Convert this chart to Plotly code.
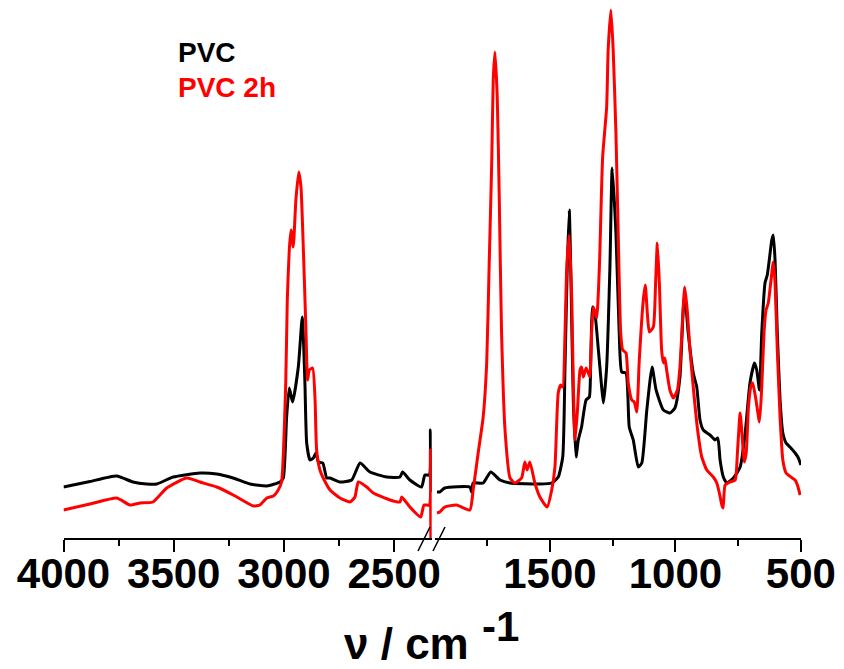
import plotly.graph_objects as go

# ---------------- data (wavenumber in cm-1, absorbance in arbitrary units) ----------------
# PVC, high-wavenumber segment (4000 - 2330 cm-1)
pvc_hi_wn = [4000, 3880, 3759, 3685, 3623, 3577, 3503, 3381, 3305, 3231, 3154, 3078, 3018, 3003,
             2988, 2976, 2961, 2935, 2917, 2905, 2897, 2882, 2867, 2855, 2844, 2824, 2806, 2791,
             2746, 2693, 2655, 2610, 2534, 2474, 2462, 2429, 2376, 2361, 2341, 2336, 2331]
pvc_hi_a = [51, 56.5, 62, 56, 54, 54, 61, 65, 64, 60, 54, 52, 56, 60,
            121, 150, 136, 171, 221, 155, 95, 78, 80, 85, 76, 75, 60, 60,
            56, 58, 75, 66, 61, 61, 66, 58, 51, 63, 63, 108, 46]

# PVC 2h, high-wavenumber segment
pvc2h_hi_wn = [4000, 3880, 3759, 3698, 3653, 3594, 3532, 3441, 3381, 3305, 3230, 3139, 3109, 3078,
               3048, 3026, 3011, 2992, 2985, 2976, 2968, 2958, 2946, 2933, 2923, 2912, 2900, 2893,
               2885, 2870, 2859, 2852, 2837, 2822, 2791, 2746, 2701, 2678, 2663, 2625, 2595, 2519,
               2474, 2466, 2429, 2380, 2365, 2341, 2336, 2334]
pvc2h_hi_a = [28, 34, 40, 33, 35, 36, 50, 60, 56, 51, 43, 32, 33, 40,
              42, 48, 56, 155, 238, 288, 308, 291, 338, 366, 351, 288, 205, 158,
              168, 170, 138, 88, 68, 60, 48, 40, 36, 41, 56, 51, 45, 38,
              36, 41, 31, 21, 33, 33, 88, 0]

# PVC, fingerprint segment (1950 - 500 cm-1)
pvc_lo_wn = [1950, 1939, 1919, 1819, 1812, 1806, 1766, 1736, 1699, 1659, 1540, 1493, 1467, 1449,
             1440, 1431, 1423, 1416, 1407, 1396, 1387, 1374, 1356, 1343, 1338, 1330, 1321, 1307,
             1294, 1287, 1274, 1261, 1252, 1237, 1224, 1214, 1197, 1184, 1168, 1148, 1134, 1114,
             1093, 1077, 1048, 1022, 1002, 982, 966, 962, 949, 929, 915, 902, 889, 862, 842, 831,
             822, 809, 795, 769, 742, 722, 703, 685, 676, 665, 656, 643, 634, 626, 616, 610, 603,
             594, 583, 572, 559, 540, 523, 510, 500]
pvc_lo_a = [46, 46, 50, 51, 46, 55, 55, 66, 58, 55, 54, 55, 61, 81,
            171, 271, 328, 255, 138, 81, 98, 111, 138, 141, 171, 231, 225, 188,
            151, 135, 171, 271, 370, 305, 205, 166, 165, 111, 98, 71, 75, 128,
            171, 148, 128, 125, 130, 161, 238, 240, 205, 165, 151, 118, 108, 103, 98, 100,
            78, 61, 55, 60, 71, 105, 155, 175, 168, 148, 205, 255, 263, 278, 298, 303, 278,
            205, 138, 105, 95, 90, 85, 80, 73]

# PVC 2h, fingerprint segment
pvc2h_lo_wn = [1950, 1939, 1919, 1872, 1819, 1806, 1786, 1766, 1752, 1742, 1732, 1726, 1719, 1710,
               1702, 1693, 1679, 1659, 1640, 1613, 1600, 1591, 1580, 1560, 1540, 1511, 1493, 1480,
               1467, 1457, 1449, 1440, 1433, 1423, 1413, 1407, 1400, 1391, 1380, 1374, 1367, 1356,
               1347, 1341, 1334, 1327, 1314, 1303, 1290, 1274, 1268, 1257, 1248, 1237, 1228, 1218,
               1210, 1197, 1188, 1174, 1164, 1154, 1144, 1128, 1120, 1112, 1104, 1088, 1079, 1072,
               1064, 1055, 1048, 1042, 1035, 1022, 1008, 992, 982, 971, 963, 953, 942, 929, 913,
               895, 875, 849, 835, 825, 815, 810, 802, 782, 762, 753, 742, 733, 726, 718, 709, 700,
               692, 679, 665, 656, 647, 639, 630, 619, 610, 603, 594, 583, 572, 559, 540, 523, 514,
               503]
pvc2h_lo_a = [25, 26, 31, 33, 28, 48, 85, 121, 175, 275, 375, 458, 486, 441,
              341, 208, 108, 60, 55, 60, 76, 68, 76, 55, 41, 31, 48, 71,
              145, 153, 151, 205, 271, 303, 238, 155, 98, 125, 168, 171, 161, 170,
              165, 161, 205, 231, 220, 271, 381, 431, 488, 528, 488, 405, 305, 205,
              188, 185, 155, 138, 136, 126, 178, 238, 253, 225, 206, 211, 255, 295,
              255, 188, 175, 180, 168, 148, 140, 148, 171, 221, 251, 228, 188, 151, 111,
              81, 68, 61, 55, 45, 33, 30, 53, 56, 58, 85, 125, 98, 76, 85, 131, 151,
              155, 138, 116, 151, 205, 228, 235, 258, 276, 255, 188, 121, 78, 65, 61, 58, 53,
              43]

hi_ticks = [4000, 3500, 3000, 2500]
lo_ticks = [1500, 1000, 500]
series_names = ["PVC", "PVC 2h"]
series_colors = ["#000000", "#FF0000"]

# ---------------- figure ----------------
W, H = 844, 669
FONT = "Liberation Sans, Arial, sans-serif"
LINE = dict(width=3, shape="spline", smoothing=0.5)

fig = go.Figure()
for xs, ys, xa, i in [(pvc_hi_wn, pvc_hi_a, "x", 0), (pvc2h_hi_wn, pvc2h_hi_a, "x", 1),
                      (pvc_lo_wn, pvc_lo_a, "x2", 0), (pvc2h_lo_wn, pvc2h_lo_a, "x2", 1)]:
    fig.add_trace(go.Scatter(x=xs, y=ys, mode="lines", xaxis=xa, yaxis="y",
                             line=dict(color=series_colors[i], **LINE),
                             name=series_names[i], showlegend=False))

axis_common = dict(
    showgrid=False, zeroline=False, showline=True, linecolor="black", linewidth=2,
    ticks="outside", ticklen=12, tickwidth=2, tickcolor="black",
    tickfont=dict(family=FONT, size=42, color="black", weight="bold"),
    ticklabelstandoff=-14,
    minor=dict(ticks="outside", ticklen=6, tickwidth=2, tickcolor="black",
               tick0=0, dtick=250, showgrid=False),
    anchor="y", fixedrange=True, automargin=False,
)
fig.update_layout(
    width=W, height=H,
    margin=dict(l=0, r=0, t=0, b=131, pad=0, autoexpand=False),
    plot_bgcolor="white", paper_bgcolor="white",
    xaxis=dict(domain=[63.5 / W, 431.7 / W], range=[4000, 2330],
               tickmode="array", tickvals=hi_ticks, ticktext=[str(t) for t in hi_ticks],
               **axis_common),
    xaxis2=dict(domain=[435 / W, 800.9 / W], range=[1958, 500],
                tickmode="array", tickvals=lo_ticks, ticktext=[str(t) for t in lo_ticks],
                **axis_common),
    yaxis=dict(range=[0, 538], visible=False, fixedrange=True, automargin=False),
)

PH = 538.0  # plot height in px


def px(x):
    return x / W


def py(y):
    return (PH - y) / PH


# axis break marks
for x0, x1 in [(418, 430), (433, 445)]:
    fig.add_shape(type="line", xref="paper", yref="paper",
                  x0=px(x0), y0=py(551), x1=px(x1), y1=py(527),
                  line=dict(color="black", width=1.5))

# legend texts
fig.add_annotation(x=px(176), y=py(70), xref="paper", yref="paper", text="<b>PVC</b>",
                   showarrow=False, xanchor="left", yanchor="bottom",
                   font=dict(family=FONT, size=28, color=series_colors[0]))
fig.add_annotation(x=px(176), y=py(105), xref="paper", yref="paper", text="<b>PVC 2h</b>",
                   showarrow=False, xanchor="left", yanchor="bottom",
                   font=dict(family=FONT, size=28, color=series_colors[1]))

# axis title
fig.add_annotation(x=px(406), y=py(643), xref="paper", yref="paper", text="<b>ν / cm</b>",
                   showarrow=False, xanchor="center", yanchor="middle",
                   font=dict(family=FONT, size=44, color="black"))
fig.add_annotation(x=px(480), y=py(626), xref="paper", yref="paper", text="<b>-1</b>",
                   showarrow=False, xanchor="left", yanchor="middle",
                   font=dict(family=FONT, size=42, color="black"))

fig.write_html("out.html", config={"displayModeBar": False},
               post_script="document.body.style.margin='0';")
